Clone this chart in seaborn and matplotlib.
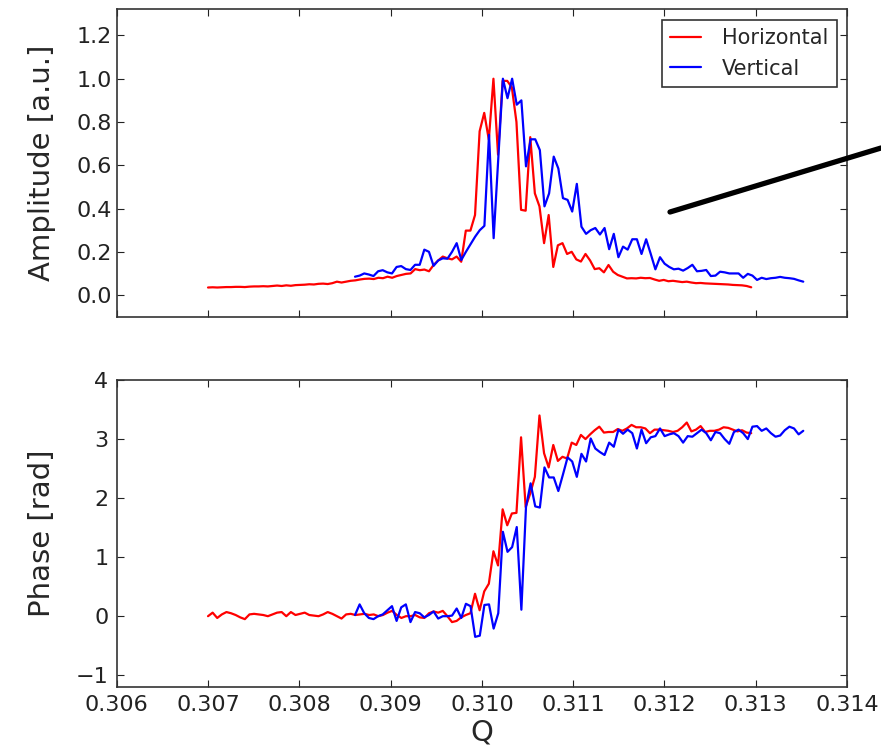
import numpy as np
import matplotlib
matplotlib.use("Agg")
import matplotlib.pyplot as plt
from matplotlib.lines import Line2D
from matplotlib.ticker import FormatStrFormatter
import seaborn as sns

# scan points (tune Q) for the two planes
q_h = np.linspace(0.30700, 0.31295, 119)
q_v = np.linspace(0.30861, 0.31352, 98)

amp_h = [0.035, 0.036, 0.035, 0.036, 0.037, 0.037, 0.038, 0.038, 0.037, 0.039,
         0.040, 0.040, 0.041, 0.040, 0.042, 0.044, 0.042, 0.045, 0.043, 0.046,
         0.047, 0.048, 0.050, 0.049, 0.052, 0.053, 0.051, 0.055, 0.062, 0.058,
         0.062, 0.066, 0.068, 0.072, 0.075, 0.076, 0.074, 0.080, 0.078, 0.085,
         0.080, 0.088, 0.093, 0.098, 0.100, 0.120, 0.115, 0.118, 0.110, 0.139,
         0.160, 0.178, 0.170, 0.165, 0.178, 0.154, 0.298, 0.298, 0.370, 0.757,
         0.842, 0.718, 1.000, 0.649, 0.990, 0.990, 0.960, 0.800, 0.394, 0.390,
         0.730, 0.470, 0.410, 0.240, 0.370, 0.130, 0.230, 0.240, 0.190, 0.200,
         0.165, 0.155, 0.190, 0.160, 0.120, 0.124, 0.105, 0.139, 0.108, 0.093,
         0.085, 0.077, 0.078, 0.077, 0.080, 0.078, 0.079, 0.072, 0.066, 0.070,
         0.064, 0.066, 0.063, 0.060, 0.062, 0.058, 0.055, 0.056, 0.054, 0.053,
         0.052, 0.051, 0.050, 0.049, 0.047, 0.046, 0.045, 0.042, 0.036]

amp_v = [0.085, 0.090, 0.100, 0.095, 0.088, 0.110, 0.115, 0.105, 0.100, 0.130,
         0.134, 0.120, 0.116, 0.140, 0.140, 0.210, 0.200, 0.135, 0.160, 0.170,
         0.168, 0.200, 0.240, 0.162, 0.200, 0.235, 0.270, 0.300, 0.320, 0.741,
         0.263, 0.630, 1.000, 0.910, 1.000, 0.880, 0.900, 0.595, 0.720, 0.720,
         0.670, 0.410, 0.470, 0.640, 0.585, 0.448, 0.440, 0.386, 0.514, 0.316,
         0.283, 0.300, 0.310, 0.280, 0.310, 0.212, 0.283, 0.175, 0.224, 0.210,
         0.258, 0.258, 0.190, 0.258, 0.190, 0.119, 0.175, 0.145, 0.130, 0.119,
         0.122, 0.113, 0.125, 0.140, 0.110, 0.112, 0.116, 0.088, 0.090, 0.108,
         0.105, 0.100, 0.100, 0.100, 0.080, 0.098, 0.090, 0.070, 0.080, 0.074,
         0.078, 0.080, 0.084, 0.080, 0.078, 0.075, 0.068, 0.062]

phase_h = [0.00, 0.06, -0.03, 0.03, 0.07, 0.05, 0.02, -0.02, -0.05, 0.03,
           0.04, 0.03, 0.02, 0.00, 0.03, 0.06, 0.07, 0.00, 0.07, 0.02,
           0.04, 0.06, 0.02, 0.01, 0.00, 0.03, 0.07, 0.04, 0.00, -0.04,
           0.03, 0.04, 0.02, 0.03, 0.04, 0.02, 0.03, 0.00, 0.02, 0.06,
           0.09, 0.02, -0.03, 0.00, 0.00, 0.02, -0.02, -0.03, 0.05, 0.08,
           0.06, 0.09, 0.00, -0.10, -0.08, -0.02, 0.02, 0.05, 0.38, 0.10,
           0.42, 0.55, 1.10, 0.86, 1.81, 1.54, 1.74, 1.75, 3.03, 1.85,
           2.08, 2.36, 3.40, 2.76, 2.52, 2.90, 2.63, 2.70, 2.67, 2.94,
           2.90, 3.07, 3.00, 3.08, 3.15, 3.21, 3.11, 3.12, 3.12, 3.17,
           3.14, 3.18, 3.24, 3.20, 3.20, 3.18, 3.10, 3.16, 3.16, 3.15,
           3.14, 3.12, 3.14, 3.20, 3.28, 3.13, 3.16, 3.22, 3.12, 3.14,
           3.14, 3.16, 3.20, 3.19, 3.16, 3.13, 3.15, 3.11, 3.10]

phase_v = [0.02, 0.20, 0.05, -0.03, -0.05, 0.00, 0.03, 0.10, 0.17, -0.08,
           0.15, 0.20, -0.10, 0.07, 0.05, -0.02, 0.02, 0.08, -0.04, 0.00,
           0.00, 0.01, 0.13, -0.03, 0.21, 0.17, -0.35, -0.33, 0.19, 0.20,
           -0.21, 0.05, 1.43, 1.09, 1.17, 1.51, 0.11, 1.85, 2.25, 1.86,
           1.84, 2.52, 2.35, 2.35, 2.12, 2.40, 2.69, 2.62, 2.36, 2.75,
           2.62, 3.01, 2.84, 2.78, 2.73, 2.94, 2.87, 3.16, 3.09, 3.16,
           3.10, 2.84, 3.16, 2.93, 3.03, 3.05, 3.18, 3.05, 3.08, 3.10,
           3.05, 2.94, 3.05, 3.04, 3.10, 3.16, 3.10, 2.98, 3.12, 3.10,
           3.00, 2.92, 3.12, 3.16, 3.10, 3.00, 3.21, 3.22, 3.14, 3.18,
           3.10, 3.04, 3.06, 3.15, 3.21, 3.18, 3.08, 3.14]

sns.set_style("ticks")
plt.rcParams["font.family"] = ["DejaVu Sans"]
plt.rcParams.update({
    "xtick.direction": "in", "ytick.direction": "in",
    "xtick.top": True, "ytick.right": True,
    "xtick.major.size": 5, "ytick.major.size": 5,
    "xtick.color": "#222222", "ytick.color": "#222222",
    "axes.edgecolor": "#333333", "axes.linewidth": 1.2,
})

fig = plt.figure(figsize=(8.81, 7.53), dpi=100)
ax1 = fig.add_axes([0.1325, 0.5794, 0.829, 0.408])
ax2 = fig.add_axes([0.1325, 0.0876, 0.829, 0.4077], sharex=ax1)

sns.lineplot(x=q_h, y=amp_h, color="red", lw=1.6, label="Horizontal", ax=ax1, estimator=None, sort=False)
sns.lineplot(x=q_v, y=amp_v, color="blue", lw=1.6, label="Vertical", ax=ax1, estimator=None, sort=False)
sns.lineplot(x=q_h, y=phase_h, color="red", lw=1.6, ax=ax2, estimator=None, sort=False)
sns.lineplot(x=q_v, y=phase_v, color="blue", lw=1.6, ax=ax2, estimator=None, sort=False)

ax1.set_xlim(0.306, 0.314)
ax1.set_ylim(-0.1, 1.32)
ax1.set_yticks([0.0, 0.2, 0.4, 0.6, 0.8, 1.0, 1.2])
ax1.yaxis.set_major_formatter(FormatStrFormatter("%.1f"))
ax1.tick_params(labelbottom=False, labelsize=16)
ax1.set_ylabel("Amplitude [a.u.]", fontsize=21, labelpad=15)

ax2.set_ylim(-1.2, 4)
ax2.set_yticks([-1, 0, 1, 2, 3, 4])
ax2.set_xticks(np.arange(0.306, 0.3145, 0.001))
ax2.xaxis.set_major_formatter(FormatStrFormatter("%.3f"))
ax2.tick_params(labelsize=16, pad=6)
ax2.set_ylabel("Phase [rad]", fontsize=21, labelpad=14)
ax2.set_xlabel("Q", fontsize=21, labelpad=2)

leg = ax1.legend(loc="upper right", fontsize=15, frameon=True, fancybox=False,
                 handlelength=1.5, handletextpad=1.0, borderaxespad=0.5)
leg.get_frame().set_edgecolor("black")
leg.get_frame().set_linewidth(1.2)

# thick pointer line running off the right edge
fig.add_artist(Line2D([670 / 881, 1.0], [1 - 212 / 753, 1 - 148 / 753],
                      transform=fig.transFigure, color="black", lw=3.8))

fig.savefig("out.png", dpi=100)
